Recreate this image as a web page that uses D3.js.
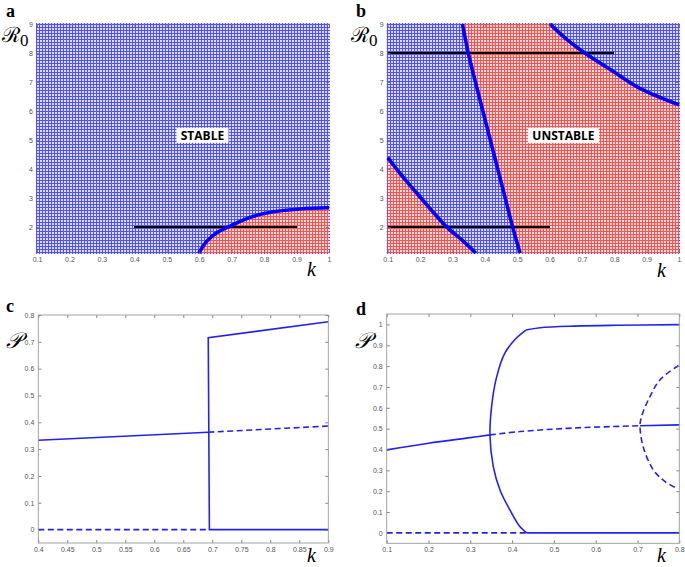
<!DOCTYPE html>
<html><head><meta charset="utf-8">
<script src="https://cdn.jsdelivr.net/npm/d3@7/dist/d3.min.js"></script>
<style>body{margin:0;background:#fff}svg{display:block}</style>
</head><body>
<svg id="fig" width="685" height="567"></svg>
<script>
// ---------------- DATA ----------------
const abKTicks = [0.1,0.2,0.3,0.4,0.5,0.6,0.7,0.8,0.9,1];
const abRTicks = [2,3,4,5,6,7,8,9];
const cKTicks = [0.4,0.45,0.5,0.55,0.6,0.65,0.7,0.75,0.8,0.85,0.9];
const cPTicks = [0,0.1,0.2,0.3,0.4,0.5,0.6,0.7,0.8];
const dKTicks = [0.1,0.2,0.3,0.4,0.5,0.6,0.7,0.8];
const dPTicks = [0,0.1,0.2,0.3,0.4,0.5,0.6,0.7,0.8,0.9,1];

// panel a: stability boundary (k, R0)
const aBoundary = [[0.599,1.1],[0.623,1.5],[0.654,1.8],[0.695,2.03],[0.757,2.33],[0.828,2.52],[0.91,2.62],[1.0,2.66]];
const aSection = [[0.4,2],[0.9,2]];
// panel b: boundaries
const bCurve1 = [[0.1,4.39],[0.138,3.85],[0.19,3.16],[0.241,2.5],[0.282,2.0],[0.334,1.5],[0.372,1.1]];
const bCurve2 = [[0.331,9],[0.349,8],[0.371,7],[0.394,6],[0.417,5],[0.44,4],[0.463,3],[0.486,2],[0.509,1.1]];
const bCurve3 = [[0.601,9],[0.655,8.45],[0.71,7.99],[0.797,7.36],[0.879,6.78],[1.0,6.21]];
const bSections = [[[0.1,8],[0.8,8]],[[0.1,2],[0.6,2]]];

// panel c: bifurcation branches (k, P)
const cStableLow = [[0.4,0.333],[0.693,0.363]];
const cUnstableMid = [[0.693,0.363],[0.9,0.386]];
const cUnstableZero = [[0.4,0],[0.693,0]];
const cStableJump = [[0.9,0.775],[0.693,0.715],[0.695,0],[0.9,0]];

// panel d
const dStableMidL = [[0.1,0.398],[0.2,0.43],[0.3,0.457],[0.347,0.47]];
const dUnstableMid = [[0.347,0.47],[0.419,0.486],[0.546,0.503],[0.706,0.514]];
const dStableMidR = [[0.706,0.514],[0.8,0.518]];
const dUnstableZero = [[0.1,0],[0.435,0]];
const dStableZero = [[0.435,0],[0.8,0]];
const dStableArc = [[0.435,0],[0.419,0.029],[0.395,0.109],[0.371,0.206],[0.355,0.318],[0.347,0.47],[0.351,0.607],[0.362,0.74],[0.382,0.86],[0.408,0.93],[0.433,0.973]];
const dStableTop = [[0.433,0.973],[0.467,0.984],[0.55,0.992],[0.65,0.996],[0.8,0.999]];
const dUnstableArc = [[0.798,0.803],[0.754,0.735],[0.73,0.655],[0.71,0.56],[0.706,0.514],[0.714,0.41],[0.738,0.302],[0.766,0.246],[0.794,0.214]];

// ---------------- DRAW ----------------
const svg = d3.select("#fig");
const defs = svg.append("defs");
function mesh(id, line, bg){
  const p = defs.append("pattern").attr("id", id).attr("patternUnits","userSpaceOnUse")
    .attr("width",3).attr("height",3);
  p.append("rect").attr("width",3).attr("height",3).attr("fill",bg);
  p.append("rect").attr("width",3).attr("height",1).attr("fill",line);
  p.append("rect").attr("width",1).attr("height",3).attr("fill",line);
}
mesh("meshBlue","#5050ff","#dedeff");
mesh("meshRed","#ff5050","#ffdede");

const fmt = d3.format("~g");
const tickFont = "Liberation Sans, Arial, sans-serif";

function panel(id, xr, yr, xd, yd, xt, yt){
  const x = d3.scaleLinear().domain(xd).range(xr);
  const y = d3.scaleLinear().domain(yd).range(yr);
  const g = svg.append("g");
  defs.append("clipPath").attr("id", id).append("rect")
    .attr("x", xr[0]-1).attr("y", yr[1]-1).attr("width", xr[1]-xr[0]+2).attr("height", yr[0]-yr[1]+2);
  const plot = g.append("g").attr("clip-path", `url(#${id})`);
  return {x, y, g, plot, xt, yt, xr, yr};
}
function axes(P, frame){
  const {x,y,g,xt,yt,xr,yr} = P;
  const ax = g.append("g");
  const style = sel => {
    sel.select(".domain").remove();
    sel.selectAll("line").attr("stroke","#666").attr("stroke-width",0.8);
    sel.selectAll("text").attr("fill","#555").style("font-family",tickFont).style("font-size","7px");
  };
  ax.append("g").attr("transform",`translate(0,${yr[0]})`)
    .call(d3.axisBottom(x).tickValues(xt).tickFormat(fmt).tickSize(-3).tickPadding(4)).call(style);
  ax.append("g").attr("transform",`translate(${xr[0]},0)`)
    .call(d3.axisLeft(y).tickValues(yt).tickFormat(fmt).tickSize(-3).tickPadding(4)).call(style);
  ax.append("g").attr("transform",`translate(0,${yr[1]})`)
    .call(d3.axisTop(x).tickValues(xt).tickFormat("").tickSize(-3)).call(style);
  ax.append("g").attr("transform",`translate(${xr[1]},0)`)
    .call(d3.axisRight(y).tickValues(yt).tickFormat("").tickSize(-3)).call(style);
  if(frame){
    ax.append("rect").attr("x",xr[0]).attr("y",yr[1]).attr("width",xr[1]-xr[0]).attr("height",yr[0]-yr[1])
      .attr("fill","none").attr("stroke","#999").attr("stroke-width",0.9);
  }
}
function letter(t, px, py){
  svg.append("text").attr("x",px).attr("y",py).text(t)
    .style("font-family","Liberation Serif, Times New Roman, serif").style("font-weight","bold").style("font-size","18px");
}
function kLabel(px, py){
  svg.append("text").attr("x",px).attr("y",py).text("k")
    .style("font-family","Liberation Serif, serif").style("font-style","italic").style("font-size","20px");
}
function rLabel(px, py){
  const t = svg.append("text").attr("x",px).attr("y",py)
    .style("font-family","DejaVu Serif, serif").style("font-size","21px");
  t.append("tspan").text("ℛ");
  t.append("tspan").attr("dy",4).style("font-family","Liberation Serif, serif").style("font-size","17px").text("0");
}
function pLabel(px, py){
  svg.append("text").attr("x",px).attr("y",py).text("𝒫")
    .style("font-family","DejaVu Serif, serif").style("font-style","italic").style("font-size","22px");
}
function boxLabel(P, kx, ry, txt, w){
  const cx = P.x(kx), cy = P.y(ry);
  P.g.append("rect").attr("x",cx-w/2).attr("y",cy-7.5).attr("width",w).attr("height",15).attr("fill","#fff");
  P.g.append("text").attr("x",cx).attr("y",cy+4.3).attr("text-anchor","middle").text(txt)
    .style("font-family","Open Sans, sans-serif").style("font-weight","bold").style("font-size","12px");
}

const lineGen = (P, curve) => d3.line().x(d=>P.x(d[0])).y(d=>P.y(d[1])).curve(curve || d3.curveLinear);
const smooth = d3.curveCatmullRom.alpha(0.5);
function section(P, s){
  P.plot.append("path").attr("d",lineGen(P)(s)).attr("stroke","#000").attr("stroke-width",1.6)
    .attr("fill","none").attr("shape-rendering","crispEdges");
}

// ---- Panel a ----
const A = panel("clipA",[37,329],[253,24],[0.1,1],[1.1,9],abKTicks,abRTicks);
A.plot.append("rect").attr("x",36).attr("y",23).attr("width",294).attr("height",231).attr("fill","url(#meshBlue)");
const aRedPath = lineGen(A, smooth)(aBoundary) + "L" + A.x(1.0) + "," + A.y(1.1) + "L" + A.x(aBoundary[0][0]) + "," + A.y(1.1) + "Z";
A.plot.append("path").attr("d",aRedPath).attr("fill","url(#meshRed)");
axes(A,false);
section(A, aSection);
A.plot.append("path").attr("d",lineGen(A, smooth)(aBoundary)).attr("stroke","#0000ff").attr("stroke-width",3.6).attr("fill","none");
boxLabel(A,0.61,5.16,"STABLE",52);

// ---- Panel b ----
const B = panel("clipB",[387.7,679],[253,24],[0.1,1],[1.1,9],abKTicks,abRTicks);
B.plot.append("rect").attr("x",386).attr("y",23).attr("width",295).attr("height",231).attr("fill","url(#meshBlue)");
const bRed1 = lineGen(B, smooth)(bCurve1) + "L" + B.x(0.1) + "," + B.y(1.1) + "Z";
const c3r = lineGen(B, smooth)(bCurve3.slice().reverse());
const bRed2 = lineGen(B, smooth)(bCurve2) + "L" + B.x(1.0) + "," + B.y(1.1) + "L" + c3r.slice(1) + "Z";
B.plot.append("path").attr("d",bRed1).attr("fill","url(#meshRed)");
B.plot.append("path").attr("d",bRed2).attr("fill","url(#meshRed)");
axes(B,false);
bSections.forEach(s=>section(B, s));
[bCurve1,bCurve2,bCurve3].forEach(c=>B.plot.append("path").attr("d",lineGen(B, smooth)(c)).attr("stroke","#0000ff").attr("stroke-width",3.6).attr("fill","none"));
boxLabel(B,0.643,5.16,"UNSTABLE",71);

// ---- Panel c ----
const C = panel("clipC",[38.3,328.3],[543,315],[0.4,0.9],[-0.05,0.8],cKTicks,cPTicks);
axes(C,true);
const blue = "#2222f0";
function draw(P, pts, dashed, curve){
  P.plot.append("path").attr("d",lineGen(P, curve)(pts)).attr("fill","none").attr("stroke",blue)
    .attr("stroke-width",1.6).attr("stroke-dasharray",dashed?"6,3.5":null);
}
draw(C,cStableLow,false); draw(C,cUnstableMid,true); draw(C,cUnstableZero,true); draw(C,cStableJump,false);

// ---- Panel d ----
const D = panel("clipD",[386.7,679.3],[543.3,314],[0.1,0.8],[-0.05,1.05],dKTicks,dPTicks);
axes(D,true);
draw(D,dStableMidL,false,smooth); draw(D,dUnstableMid,true,smooth); draw(D,dStableMidR,false,smooth);
draw(D,dUnstableZero,true); draw(D,dStableZero,false);
draw(D,dStableArc,false,smooth); draw(D,dStableTop,false,smooth); draw(D,dUnstableArc,true,smooth);

// ---- labels ----
letter("a",6,17); letter("b",356,17); letter("c",6,312); letter("d",356,315);
rLabel(2,42); rLabel(351,42);
pLabel(6,348); pLabel(355,348);
kLabel(307,276); kLabel(657,277); kLabel(307,562); kLabel(657,562);
</script>
</body></html>
